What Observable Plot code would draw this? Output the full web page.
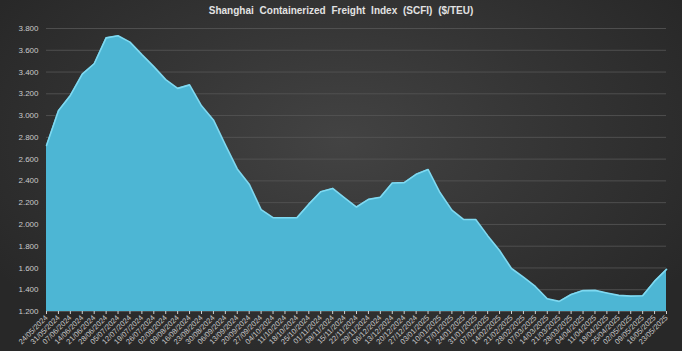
<!DOCTYPE html>
<html>
<head>
<meta charset="utf-8">
<script src="https://cdn.jsdelivr.net/npm/d3@7"></script>
<script src="https://cdn.jsdelivr.net/npm/@observablehq/plot@0.6"></script>
<style>
  html, body { margin: 0; padding: 0; background: #2a2a2a; }
  #wrap {
    position: relative; width: 682px; height: 351px; overflow: hidden;
    background: radial-gradient(ellipse 60% 70% at 50% 40%, #434343 0%, #353535 50%, #282828 100%);
  }
  #title {
    position: absolute; left: 0; top: 5px; width: 682px; text-align: center;
    font-family: "Liberation Sans", Arial, sans-serif; font-weight: bold; font-size: 10px;
    color: #e2e2e2; word-spacing: 3px; letter-spacing: 0px;
  }
  #chart { position: absolute; left: 0; top: 0; }
</style>
</head>
<body>
<div id="wrap">
  <div id="chart"></div>
  <div id="title">Shanghai Containerized Freight Index (SCFI) ($/TEU)</div>
</div>
<script>
const dates = [
  "24/05/2024","31/05/2024","07/06/2024","14/06/2024","21/06/2024","28/06/2024",
  "05/07/2024","12/07/2024","19/07/2024","26/07/2024","02/08/2024","09/08/2024",
  "16/08/2024","23/08/2024","30/08/2024","06/09/2024","13/09/2024","20/09/2024",
  "27/09/2024","04/10/2024","11/10/2024","18/10/2024","25/10/2024","01/11/2024",
  "08/11/2024","15/11/2024","22/11/2024","29/11/2024","06/12/2024","13/12/2024",
  "20/12/2024","27/12/2024","03/01/2025","10/01/2025","17/01/2025","24/01/2025",
  "31/01/2025","07/02/2025","14/02/2025","21/02/2025","28/02/2025","07/03/2025",
  "14/03/2025","21/03/2025","28/03/2025","04/04/2025","11/04/2025","18/04/2025",
  "25/04/2025","02/05/2025","09/05/2025","16/05/2025","23/05/2025"
];
const scfi = [
  2725, 3045, 3185, 3380, 3476, 3714,
  3734, 3675, 3560, 3450, 3330, 3250,
  3282, 3090, 2960, 2730, 2510, 2370,
  2136, 2062, 2062, 2062, 2186, 2300,
  2331, 2245, 2160, 2230, 2250, 2380,
  2384, 2460, 2505, 2293, 2131, 2045,
  2045, 1897, 1760, 1595, 1515, 1430,
  1317, 1293, 1356, 1392, 1394, 1370,
  1348, 1341, 1345, 1479, 1587
];
const yTicks = [1200, 1400, 1600, 1800, 2000, 2200, 2400, 2600, 2800, 3000, 3200, 3400, 3600, 3800];

const parseDate = d3.utcParse("%d/%m/%Y");
const fmtDate = d3.utcFormat("%d/%m/%Y");
const fmtNum = d3.formatLocale({thousands: ".", decimal: ",", grouping: [3], currency: ["", ""]}).format(",.0f");

const dateObjs = dates.map(parseDate);
const data = dateObjs.map((d, i) => ({date: d, value: scfi[i]}));

const chart = Plot.plot({
  width: 682,
  height: 351,
  marginLeft: 46,
  marginRight: 16,
  marginTop: 28,
  marginBottom: 40,
  style: {background: "transparent", color: "#c9c9c9", fontFamily: "Liberation Sans, Arial, sans-serif"},
  x: {type: "utc", domain: [dateObjs[0], dateObjs[dateObjs.length - 1]]},
  y: {domain: [1200, 3800]},
  marks: [
    Plot.gridY(yTicks, {stroke: "#555555", strokeOpacity: 0.85}),
    Plot.areaY(data, {x: "date", y1: 1200, y2: "value", fill: "#4db6d4"}),
    Plot.lineY(data, {x: "date", y: "value", stroke: "#7fd9f1", strokeWidth: 1.6}),
    Plot.axisY(yTicks, {tickSize: 0, tickPadding: 8, tickFormat: fmtNum, fontSize: 8, label: null}),
    Plot.axisX(dateObjs, {tickSize: 3, tickPadding: 2, tickRotate: -45, tickFormat: fmtDate, fontSize: 7.5, stroke: "#d0d0d0", label: null})
  ]
});
document.getElementById("chart").appendChild(chart);
</script>
</body>
</html>
